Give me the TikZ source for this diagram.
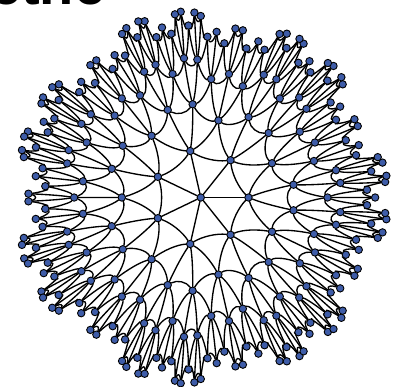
\documentclass[tikz,border=0pt]{standalone}
\usepackage{fontspec}
\setmainfont{Liberation Sans}
\usetikzlibrary{backgrounds}
\definecolor{nodeblue}{RGB}{62,92,168}
\def\sto#1#2{\expandafter\xdef\csname #1\endcsname{#2}}
\def\gv#1#2{\csname V#1#2\endcsname}
\pgfmathsetmacro\hHalf{0.5/sin(180/7)}
\pgfmathsetmacro\hC{2*\hHalf*\hHalf-1}
\pgfmathsetmacro\hS{sqrt(\hC*\hC-1)}
\pgfmathsetmacro\hL{ln(\hC+\hS)}
\pgfmathsetmacro\gA{sinh(2*\hL/3)/\hS}
\pgfmathsetmacro\gB{sinh(\hL/3)/\hS}
\def\scl{43.7}
\def\cenx{200.8}
\def\ceny{188.5}
% rotation-translation matrices A_k = R(k*360/7) T(l) R(180)
\foreach \k in {0,...,6}{%
  \pgfmathsetmacro\tCos{cos(\k*360/7)}%
  \pgfmathsetmacro\tSin{sin(\k*360/7)}%
  \pgfmathsetmacro\tmpv{-(\tCos)*\hC}\sto{A\k a}{\tmpv}%
  \sto{A\k b}{\tSin}%
  \pgfmathsetmacro\tmpv{(\tCos)*\hS}\sto{A\k c}{\tmpv}%
  \pgfmathsetmacro\tmpv{-(\tSin)*\hC}\sto{A\k d}{\tmpv}%
  \pgfmathsetmacro\tmpv{-(\tCos)}\sto{A\k e}{\tmpv}%
  \pgfmathsetmacro\tmpv{(\tSin)*\hS}\sto{A\k f}{\tmpv}%
  \pgfmathsetmacro\tmpv{-(\hS)}\sto{A\k g}{\tmpv}%
  \sto{A\k h}{0}%
  \sto{A\k i}{\hC}%
}
\sto{V0a}{1}\sto{V0b}{0}\sto{V0c}{0}\sto{V0d}{0}\sto{V0e}{1}\sto{V0f}{0}\sto{V0g}{0}\sto{V0h}{0}\sto{V0i}{1}
\def\mkchild#1#2#3{%
  \edef\mA{\gv{#2}{a}}\edef\mB{\gv{#2}{b}}\edef\mC{\gv{#2}{c}}%
  \edef\mD{\gv{#2}{d}}\edef\mE{\gv{#2}{e}}\edef\mF{\gv{#2}{f}}%
  \edef\mG{\gv{#2}{g}}\edef\mH{\gv{#2}{h}}\edef\mI{\gv{#2}{i}}%
  \edef\nA{\csname A#3a\endcsname}\edef\nB{\csname A#3b\endcsname}\edef\nC{\csname A#3c\endcsname}%
  \edef\nD{\csname A#3d\endcsname}\edef\nE{\csname A#3e\endcsname}\edef\nF{\csname A#3f\endcsname}%
  \edef\nG{\csname A#3g\endcsname}\edef\nH{\csname A#3h\endcsname}\edef\nI{\csname A#3i\endcsname}%
  \pgfmathsetmacro\tmpv{(\mA)*(\nA)+(\mB)*(\nD)+(\mC)*(\nG)}\sto{V#1a}{\tmpv}%
  \pgfmathsetmacro\tmpv{(\mA)*(\nB)+(\mB)*(\nE)+(\mC)*(\nH)}\sto{V#1b}{\tmpv}%
  \pgfmathsetmacro\tmpv{(\mA)*(\nC)+(\mB)*(\nF)+(\mC)*(\nI)}\sto{V#1c}{\tmpv}%
  \pgfmathsetmacro\tmpv{(\mD)*(\nA)+(\mE)*(\nD)+(\mF)*(\nG)}\sto{V#1d}{\tmpv}%
  \pgfmathsetmacro\tmpv{(\mD)*(\nB)+(\mE)*(\nE)+(\mF)*(\nH)}\sto{V#1e}{\tmpv}%
  \pgfmathsetmacro\tmpv{(\mD)*(\nC)+(\mE)*(\nF)+(\mF)*(\nI)}\sto{V#1f}{\tmpv}%
  \pgfmathsetmacro\tmpv{(\mG)*(\nA)+(\mH)*(\nD)+(\mI)*(\nG)}\sto{V#1g}{\tmpv}%
  \pgfmathsetmacro\tmpv{(\mG)*(\nB)+(\mH)*(\nE)+(\mI)*(\nH)}\sto{V#1h}{\tmpv}%
  \pgfmathsetmacro\tmpv{(\mG)*(\nC)+(\mH)*(\nF)+(\mI)*(\nI)}\sto{V#1i}{\tmpv}%
}
\def\edgelist{}
\def\addedge#1#2{\xdef\edgelist{\unexpanded\expandafter{\edgelist}\noexpand\doedge{#1}{#2}}}
\newcount\nv \nv=8
\newcount\lyS \newcount\lyE
\lyS=1 \lyE=7
% layer 1
\foreach \k in {0,...,6}{%
  \pgfmathtruncatemacro\idx{\k+1}%
  \foreach \ee in {a,b,c,d,e,f,g,h,i}{\sto{V\idx\ee}{\csname A\k\ee\endcsname}}%
  \sto{T\idx}{1}%
  \addedge{0}{\idx}%
}
% layers 2..4
\foreach \lay in {1,2,3}{%
  \xdef\curS{\the\lyS}\xdef\curE{\the\lyE}\xdef\newS{\the\nv}%
  \foreach \vv in {\curS,...,\curE}{%
    \ifnum\vv=\curS\relax \xdef\prv{\curE}\else\pgfmathtruncatemacro\tmpi{\vv-1}\xdef\prv{\tmpi}\fi
    \ifnum\csname T\vv\endcsname=1 \gdef\klist{2,3,4}\else\gdef\klist{3,4}\fi
    \gdef\firstf{1}%
    \foreach \k in \klist{%
      \xdef\newidx{\the\nv}%
      \mkchild{\newidx}{\vv}{\k}%
      \addedge{\vv}{\newidx}%
      \ifnum\firstf=1 \sto{T\newidx}{2}\addedge{\prv}{\newidx}\gdef\firstf{0}\else\sto{T\newidx}{1}\fi
      \global\advance\nv by 1
    }%
  }%
  \global\lyS=\newS\relax
  \global\lyE=\nv \global\advance\lyE by -1
}
\xdef\lastV{\the\lyE}
% same-layer cycles
\foreach \sa/\sb in {1/7,8/28,29/84,85/231}{%
  \foreach \j in {\sa,...,\sb}{%
    \ifnum\j<\sb\relax \pgfmathtruncatemacro\jn{\j+1}\addedge{\j}{\jn}\else\addedge{\sb}{\sa}\fi
  }%
}
% azimuthal equidistant projection
\def\projpt#1#2#3{%
  \pgfmathsetmacro\rrho{sqrt((#1)*(#1)+(#2)*(#2))}%
  \ifdim\rrho pt<0.001pt \edef\ppx{\cenx}\edef\ppy{\ceny}%
  \else
   \pgfmathsetmacro\fac{\scl*ln(#3+\rrho)/\rrho}%
   \pgfmathsetmacro\ppx{\cenx+\fac*(#1)}%
   \pgfmathsetmacro\ppy{\ceny+\fac*(#2)}%
  \fi}
\foreach \j in {0,...,\lastV}{%
  \edef\qx{\gv{\j}{c}}\edef\qy{\gv{\j}{f}}\edef\qz{\gv{\j}{i}}%
  \projpt{\qx}{\qy}{\qz}%
  \sto{PX\j}{\ppx}\sto{PY\j}{\ppy}%
}
\def\doedge#1#2{%
  \edef\aX{\gv{#1}{c}}\edef\aY{\gv{#1}{f}}\edef\aZ{\gv{#1}{i}}%
  \edef\bX{\gv{#2}{c}}\edef\bY{\gv{#2}{f}}\edef\bZ{\gv{#2}{i}}%
  \pgfmathsetmacro\hx{\gA*(\aX)+\gB*(\bX)}%
  \pgfmathsetmacro\hy{\gA*(\aY)+\gB*(\bY)}%
  \pgfmathsetmacro\hz{\gA*(\aZ)+\gB*(\bZ)}%
  \projpt{\hx}{\hy}{\hz}\let\uX\ppx\let\uY\ppy
  \pgfmathsetmacro\hx{\gB*(\aX)+\gA*(\bX)}%
  \pgfmathsetmacro\hy{\gB*(\aY)+\gA*(\bY)}%
  \pgfmathsetmacro\hz{\gB*(\aZ)+\gA*(\bZ)}%
  \projpt{\hx}{\hy}{\hz}\let\wX\ppx\let\wY\ppy
  \edef\pX{\csname PX#1\endcsname}\edef\pY{\csname PY#1\endcsname}%
  \edef\qX{\csname PX#2\endcsname}\edef\qY{\csname PY#2\endcsname}%
  \pgfmathsetmacro\cAx{(18*\uX-9*\wX-5*\pX+2*\qX)/6}%
  \pgfmathsetmacro\cAy{(18*\uY-9*\wY-5*\pY+2*\qY)/6}%
  \pgfmathsetmacro\cBx{(18*\wX-9*\uX-5*\qX+2*\pX)/6}%
  \pgfmathsetmacro\cBy{(18*\wY-9*\uY-5*\qY+2*\pY)/6}%
  \draw[lnk] (v#1) .. controls (\cAx,\cAy) and (\cBx,\cBy) .. (v#2);%
}
\begin{document}
\begin{tikzpicture}[x=1pt,y=1pt,
  vert/.style={circle,fill=nodeblue,draw=black,line width=0.9pt,minimum size=7.4pt,inner sep=0pt},
  lnk/.style={draw=black,line width=1.35pt,line cap=round}]
\useasboundingbox (0,0) rectangle (394,386);
\node[anchor=base west,inner sep=0pt,font=\bfseries\fontsize{56}{60}\selectfont] (title) at (-10,381) {ethe};
\foreach \j in {0,...,\lastV}{%
  \edef\nx{\csname PX\j\endcsname}\edef\ny{\csname PY\j\endcsname}%
  \node[vert] (v\j) at (\nx,\ny) {};
}
\begin{pgfonlayer}{background}
\edgelist
\end{pgfonlayer}
\end{tikzpicture}
\end{document}
